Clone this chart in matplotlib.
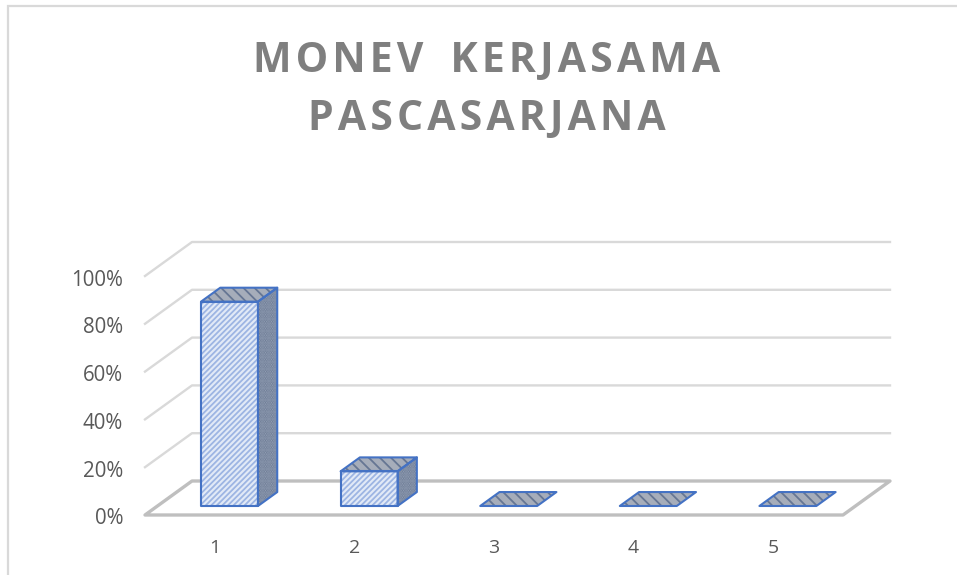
import matplotlib
matplotlib.use('Agg')
import matplotlib.pyplot as plt
from matplotlib.patches import Polygon

categorias = ['1', '2', '3', '4', '5']
valores = [85.5, 14.5, 0, 0, 0]
ticks_y = [0, 20, 40, 60, 80, 100]
etiquetas_y = ['0%', '20%', '40%', '60%', '80%', '100%']
titulo = ['MONEV KERJASAMA', 'PASCASARJANA']

# Geometria del grafico 3D (pixeles de la imagen)
x0, y0 = 145, 515
ancho = 698
alto = 239
prof_x, prof_y = 47, -34
n = len(categorias)


def proy(cat, valor, prof):
    # cat en unidades de categoria, valor en %, prof de 0 (frente) a 1 (fondo)
    x = x0 + cat / n * ancho + prof * prof_x
    y = y0 - valor / 100 * alto + prof * prof_y
    return (x, y)


fig = plt.figure(figsize=(9.57, 5.75), dpi=100)
ax = fig.add_axes([0, 0, 1, 1])
ax.set_xlim(0, 957)
ax.set_ylim(575, 0)
ax.axis('off')

# Borde del area del grafico
ax.plot([8, 8, 957], [575, 6, 6], color='#d9d9d9', lw=1.6, solid_joinstyle='miter')

# Lineas de division
for t in ticks_y[1:]:
    pts = [proy(0, t, 0), proy(0, t, 1), proy(n, t, 1)]
    ax.plot(*zip(*pts), color='#d9d9d9', lw=1.7, zorder=1)

# Suelo
suelo = [proy(0, 0, 0), proy(0, 0, 1), proy(n, 0, 1), proy(n, 0, 0)]
ax.add_patch(Polygon(suelo, closed=True, facecolor='white', edgecolor='#bfbfbf',
                     lw=2.4, joinstyle='round', zorder=2))

# Barras
azul = '#4472c4'
margen = 0.312
grosor = 0.408
p1, p2 = 0.265, 0.675


def cara(pts, fondo, trama, color_trama):
    ax.add_patch(Polygon(pts, closed=True, facecolor=fondo, edgecolor=color_trama,
                         hatch=trama, lw=0, zorder=3))
    ax.add_patch(Polygon(pts, closed=True, facecolor='none', edgecolor=azul,
                         lw=1.5, joinstyle='round', zorder=4))


plt.rcParams['hatch.linewidth'] = 1.3
for i, v in enumerate(valores):
    a = i + margen
    b = a + grosor
    if v > 0:
        cara([proy(a, 0, p1), proy(b, 0, p1), proy(b, v, p1), proy(a, v, p1)],
             '#e2eaf7', '//////', '#9db5e3')
        cara([proy(b, 0, p1), proy(b, 0, p2), proy(b, v, p2), proy(b, v, p1)],
             '#66758f', '.......', '#97a3b8')
    cara([proy(a, v, p1), proy(b, v, p1), proy(b, v, p2), proy(a, v, p2)],
         '#a6adba', '\\\\\\', '#667693')

# Etiquetas
fuente = 'Open Sans'
for t, e in zip(ticks_y, etiquetas_y):
    x, y = proy(0, t, 0)
    ax.text(x - 22, y + 4, e, ha='right', va='center', fontsize=14.8, color='#595959', family=fuente)
for i, c in enumerate(categorias):
    x, y = proy(i + 0.5, 0, 0)
    ax.text(x, y + 33, c, ha='center', va='center', fontsize=14, color='#595959', family=fuente)

# Titulo con espaciado entre letras
for linea, y in zip(titulo, [62, 119]):
    texto = '\u200a'.join(linea).replace(' ', ' \u200a\u200a')
    ax.text(487, y, texto, ha='center', va='center', fontsize=29.5,
            fontweight='bold', color='#7f7f7f', family=fuente)

fig.savefig('out.png', dpi=100)
